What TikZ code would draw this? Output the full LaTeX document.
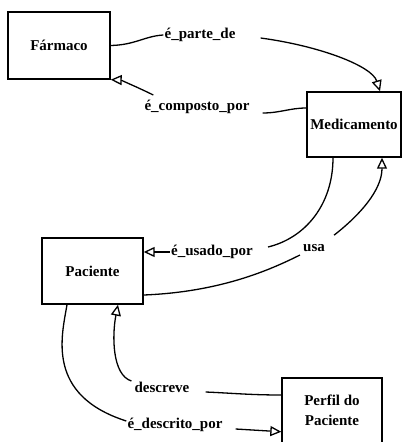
\documentclass[tikz,border=0pt]{standalone}
\usepackage{fontspec}
\setmainfont{Liberation Serif}
\usetikzlibrary{arrows.meta}
\begin{document}
\begin{tikzpicture}[x=1pt,y=-1pt,
  box/.style={draw, line width=1.4pt, inner sep=0pt, align=center,
    font=\fontsize{15}{20}\selectfont\bfseries},
  lbl/.style={inner sep=1pt, font=\fontsize{15}{15}\selectfont\bfseries},
  link/.style={line width=1.3pt},
  tip/.style={-{Triangle[open,length=11pt,width=10pt,line width=1.3pt]}}
]
\useasboundingbox (0,0) rectangle (403,442);
\clip (0,0) rectangle (403,442);

% entity boxes
\node[box, minimum width=102pt, minimum height=67pt] (far) at (59,45.5) {Fármaco};
\node[box, minimum width=94pt, minimum height=65pt] (med) at (354,124.5) {Medicamento};
\node[box, minimum width=101pt, minimum height=66pt] (pac) at (92.5,271) {Paciente};
\node[box, minimum width=100pt, minimum height=65.5pt] (per) at (332,410.75) {Perfil do\\Paciente};

% relation labels
\node[lbl] (pd)   at (200,35)  {é\_parte\_de};
\node[lbl] (cp)   at (197,107) {é\_composto\_por};
\node[lbl] (up)   at (212,252) {é\_usado\_por};
\node[lbl] (usa)  at (314,248) {usa};
\node[lbl] (desc) at (162,387) {descreve};
\node[lbl] (dp)   at (175,425) {é\_descrito\_por};

% Fármaco -> Medicamento
\draw[link] (far.east) .. controls (135,45) and (145,36) .. (pd.west);
\draw[link,tip] ([xshift=24pt,yshift=-3pt]pd.east)
  .. controls (320,46) and (372,66) .. ([xshift=26pt]med.north);

% Medicamento -> Fármaco
\draw[link] ([yshift=16.5pt]med.west) .. controls (290,108) and (280,113)
  .. ([xshift=12pt,yshift=-6pt]cp.east);
\draw[link,tip] ([xshift=10pt,yshift=12pt]cp.west)
  .. controls (135,86) and (120,80) .. (far.south east);

% Medicamento -> Paciente
\draw[link] ([xshift=-21pt]med.south) .. controls (333,205) and (305,238)
  .. ([xshift=14pt,yshift=5pt]up.east);
\draw[link,tip] (up.west) -- ([yshift=19pt]pac.east);

% Paciente -> Medicamento
\draw[link] ([yshift=-24pt]pac.east) .. controls (220,292) and (270,270)
  .. ([xshift=-2pt,yshift=-7pt]usa.west);
\draw[link,tip] ([xshift=8pt,yshift=8pt]usa.north east)
  .. controls (360,215) and (382,190) .. ([xshift=28pt]med.south);

% Paciente -> Perfil do Paciente
\draw[link] ([xshift=-25.5pt]pac.south) .. controls (62,335) and (45,395)
  .. ([yshift=4pt]dp.west);
\draw[link,tip] ([xshift=12pt,yshift=-4pt]dp.east) -- ([yshift=-21pt]per.west);

% Perfil do Paciente -> Paciente
\draw[link] ([yshift=15.75pt]per.west) .. controls (250,395) and (230,393)
  .. ([xshift=15pt,yshift=-5pt]desc.east);
\draw[link,tip] ([xshift=-2pt,yshift=6pt]desc.west)
  .. controls (112,375) and (112,335) .. ([xshift=25.5pt]pac.south);
\end{tikzpicture}
\end{document}
